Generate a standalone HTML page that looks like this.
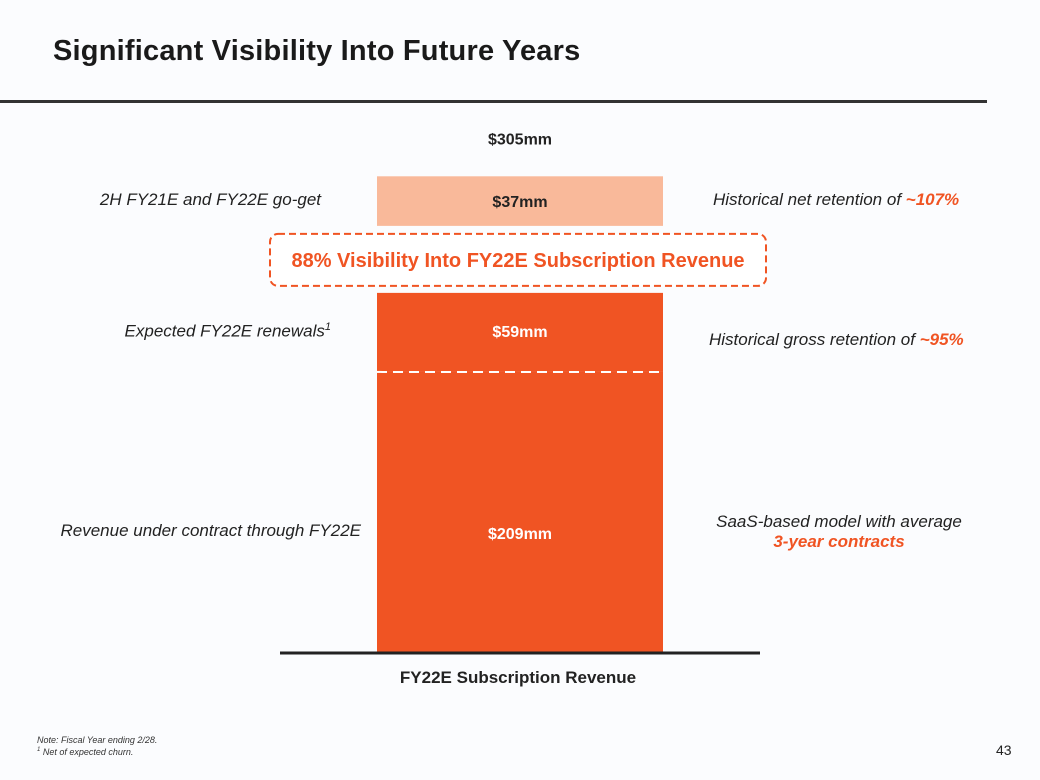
<!DOCTYPE html>
<html><head><meta charset="utf-8">
<style>
body{margin:0;width:1040px;height:780px;background:#fbfcfe;font-family:"Liberation Sans",sans-serif;position:relative;overflow:hidden}
.t{position:absolute;white-space:nowrap}
.o{color:#f05423;font-weight:bold}
</style></head><body>
<div class="t" style="left:53px;top:35px;font-size:29px;font-weight:bold;color:#1a1a1a;letter-spacing:0.2px">Significant Visibility Into Future Years</div>
<div style="position:absolute;left:0;top:100px;width:987px;height:3px;background:#333"></div>
<svg id="chart" width="1040" height="780" style="position:absolute;left:0;top:0" font-family="Liberation Sans, sans-serif"></svg>
<div class="t" style="right:719px;top:190px;font-size:17px;font-style:italic;color:#222">2H FY21E and FY22E go-get</div>
<div class="t" style="right:709px;top:321px;font-size:17px;font-style:italic;color:#222">Expected FY22E renewals<sup style="font-size:11px">1</sup></div>
<div class="t" style="right:679px;top:521px;font-size:17px;font-style:italic;color:#222">Revenue under contract through FY22E</div>
<div class="t" style="left:713px;top:190px;font-size:17px;font-style:italic;color:#222">Historical net retention of <span class="o">~107%</span></div>
<div class="t" style="left:709px;top:330px;font-size:17px;font-style:italic;color:#222">Historical gross retention of <span class="o">~95%</span></div>
<div class="t" style="left:690px;top:512px;width:298px;text-align:center;font-size:17px;font-style:italic;color:#222;line-height:20px">SaaS-based model with average<br><span class="o">3-year contracts</span></div>
<div class="t" style="left:37px;top:735px;font-size:9px;font-style:italic;color:#333;line-height:10px">Note: Fiscal Year ending 2/28.<br><sup style="font-size:6px">1</sup> Net of expected churn.</div>
<div class="t" style="left:996px;top:742px;font-size:14px;color:#222">43</div>
<script>
const categories=["Revenue under contract","Expected renewals","Go-get"];
const values=[209,59,37];
const valueLabels=["$209mm","$59mm","$37mm"];
const totalLabel="$305mm";
const axisLabel="FY22E Subscription Revenue";
const colors=["#f05423","#f05423","#f9b99a"];
const svg=document.getElementById('chart');
const NS="http://www.w3.org/2000/svg";
const base=652,k=1.34,x0=377,w=286,gap=67;
const y=v=>v*k;
function mk(t,a){const e=document.createElementNS(NS,t);for(const n in a)e.setAttribute(n,a[n]);svg.appendChild(e);return e;}
let cur=base;
const tops=[];
values.forEach((v,i)=>{
  if(i===2)cur-=gap;
  const h=y(v);
  const r=mk('rect',{x:x0,y:cur-h,width:w,height:h,fill:colors[i]});
  
  
  const ty=i===0?cur-h/2+27:(i===1?cur-h+44:cur-h/2+6);
  const tx=mk('text',{x:x0+w/2,y:ty,'text-anchor':'middle','font-size':16,'font-weight':'bold',fill:i===2?'#222':'#fff'});
  tx.textContent=valueLabels[i];
  
  
  tops.push(cur-h);
  cur-=h;
});
const dl=mk('line',{x1:x0,x2:x0+w,y1:tops[0],y2:tops[0],stroke:'#fff','stroke-width':2,'stroke-dasharray':'10,6'});


const bx=tops[1]-59;
const box=mk('rect',{x:270,y:bx,width:496,height:52,rx:8,fill:'#fff',stroke:'#f05423','stroke-width':2,'stroke-dasharray':'7,4'});


const bt=mk('text',{x:518,y:bx+33,'text-anchor':'middle','font-size':20,'font-weight':'bold',fill:'#f05423'});
bt.textContent="88% Visibility Into FY22E Subscription Revenue";


const tt=mk('text',{x:x0+w/2,y:tops[2]-32,'text-anchor':'middle','font-size':16,'font-weight':'bold',fill:'#222'});
tt.textContent=totalLabel;


const ax=mk('line',{x1:280,x2:760,y1:base+1,y2:base+1,stroke:'#222','stroke-width':3});


const al=mk('text',{x:518,y:683,'text-anchor':'middle','font-size':17,'font-weight':'bold',fill:'#222'});
al.textContent=axisLabel;


</script>
</body></html>
